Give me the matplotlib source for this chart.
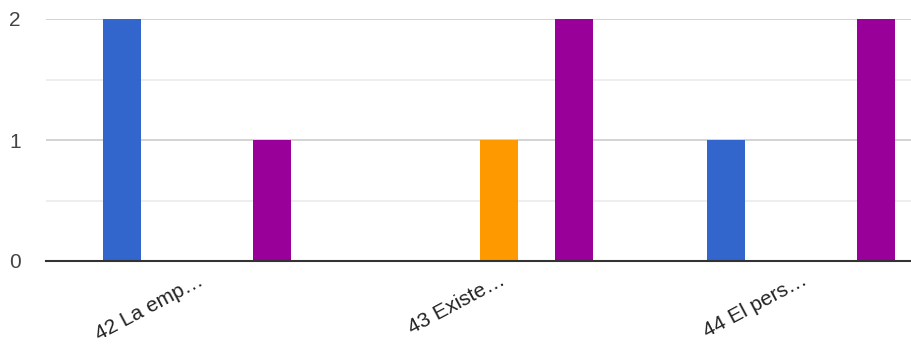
import matplotlib.pyplot as plt
import numpy as np

plt.rcParams['font.family'] = ['Liberation Sans', 'DejaVu Sans']

categories = ["42 La emp\u2026", "43 Existe\u2026", "44 El pers\u2026"]
series_blue = [2, 0, 1]
series_red = [0, 0, 0]
series_orange = [0, 1, 0]
series_green = [0, 0, 0]
series_purple = [1, 2, 2]

series = [series_blue, series_red, series_orange, series_green, series_purple]
colors = ['#3366cc', '#dc3912', '#ff9900', '#109618', '#990099']

fig = plt.figure(figsize=(9.11, 3.52), dpi=100)
ax = fig.add_axes([46 / 911, 91 / 352, 1 - 46 / 911, 242 / 352])

x = np.arange(len(categories))
w = 0.1245
for i, (vals, c) in enumerate(zip(series, colors)):
    ax.bar(x + (i - 2) * w, vals, w, color=c, zorder=3)

ax.set_xlim(-0.5, (911 - 46) / 302 - 0.5)
ax.set_ylim(0, 2)
ax.set_yticks([0, 1, 2])
ax.set_yticks([0.5, 1.5], minor=True)
ax.grid(axis='y', which='major', color='#cccccc', lw=1.2, zorder=0)
ax.grid(axis='y', which='minor', color='#ebebeb', lw=1.2, zorder=0)
ax.tick_params(axis='y', which='both', length=0, pad=18, labelsize=15, labelcolor='#444444')
ax.set_xticks(x)
ax.set_xticklabels(categories, rotation=28, ha='right', va='top',
                   rotation_mode='anchor', fontsize=15, color='#222222')
ax.tick_params(axis='x', length=0, pad=7)
for s in ['top', 'right', 'left']:
    ax.spines[s].set_visible(False)
ax.spines['bottom'].set_color('#333333')
ax.spines['bottom'].set_linewidth(1.5)
ax.spines['bottom'].set_zorder(4)

fig.savefig('out.png', dpi=100)
